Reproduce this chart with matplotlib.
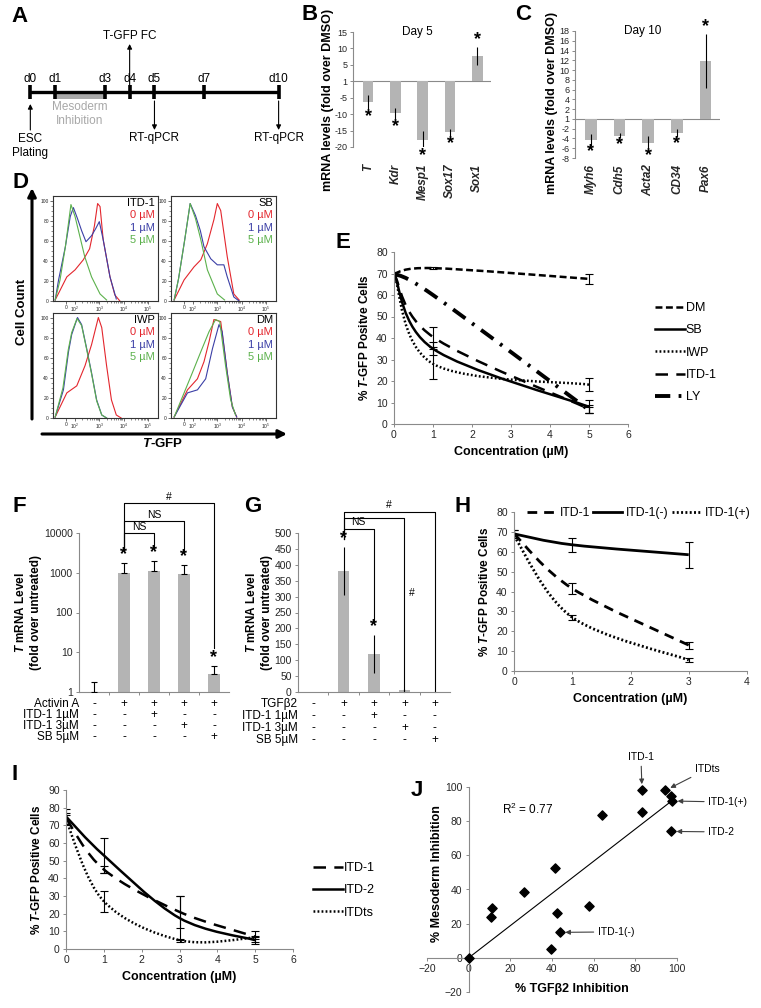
import numpy as np
import matplotlib
matplotlib.use("Agg")
from matplotlib import pyplot as plt
from matplotlib.lines import Line2D
from matplotlib.path import Path
from matplotlib.patches import PathPatch

plt.rcParams["font.family"] = ["Liberation Sans", "DejaVu Sans"]
plt.rcParams["mathtext.fontset"] = "custom"
plt.rcParams["mathtext.it"] = "Liberation Sans:italic:bold"
plt.rcParams["mathtext.rm"] = "Liberation Sans"
plt.rcParams["lines.scale_dashes"] = False
plt.rcParams["axes.edgecolor"] = "#8a8a8a"
plt.rcParams["axes.linewidth"] = 0.8
plt.rcParams["xtick.color"] = "#8a8a8a"
plt.rcParams["ytick.color"] = "#8a8a8a"
plt.rcParams["xtick.labelcolor"] = "#262626"
plt.rcParams["ytick.labelcolor"] = "#262626"
plt.rcParams["xtick.major.size"] = 2.5
plt.rcParams["ytick.major.size"] = 2.5
plt.rcParams["xtick.major.width"] = 0.7
plt.rcParams["ytick.major.width"] = 0.7
plt.rcParams["xtick.major.pad"] = 2
plt.rcParams["ytick.major.pad"] = 2

W, H = 761, 1008
BAR = "#b4b4b4"

# ---------------- data ----------------
# A: protocol timeline
days = [0, 1, 3, 4, 5, 7, 10]
day_labels = ["d0", "d1", "d3", "d4", "d5", "d7", "d10"]
inhib_days = [1, 3]

# B: day 5 qPCR (axis value 0 is labelled "1")
genes_b = ["T", "Kdr", "Mesp1", "Sox17", "Sox1"]
fold_b = [-6.3, -9.8, -17.8, -15.5, 7.6]
err_b = [2.0, 1.6, 2.6, 1.0, 2.7]
ticks_b = [15, 10, 5, 0, -5, -10, -15, -20]
ticklab_b = ["15", "10", "5", "1", "-5", "-10", "-15", "-20"]

# C: day 10 qPCR
genes_c = ["Myh6", "Cdh5", "Acta2", "CD34", "Pax6"]
fold_c = [-4.3, -3.4, -4.9, -2.9, 11.9]
err_c = [1.2, 0.6, 1.4, 0.9, 5.5]
ticks_c = list(range(18, -9, -2))
ticklab_c = [("1" if t == 0 else str(t)) for t in ticks_c]

# D: flow histograms (x in decades, y in % of max)
itd_red_x = [1.18, 1.66, 2.0, 2.34, 2.6, 2.8, 2.93, 3.03, 3.16, 3.44, 3.64, 3.85]
itd_red_y = [1, 24, 31, 41, 52, 75, 97, 94, 61, 24, 6, 0]
itd_blue_x = [1.18, 1.32, 1.6, 1.8, 1.93, 2.1, 2.27, 2.45, 2.68, 2.85, 3.0, 3.16, 3.44, 3.7]
itd_blue_y = [1, 21, 54, 84, 93, 82, 70, 59, 65, 72, 79, 61, 24, 2]
itd_green_x = [1.18, 1.38, 1.6, 1.83, 2.0, 2.2, 2.4, 2.68, 3.03, 3.3]
itd_green_y = [1, 21, 54, 96, 84, 64, 44, 24, 7, 1]

sb_red_x = [1.22, 1.63, 2.04, 2.32, 2.59, 2.86, 3.0, 3.14, 3.41, 3.68, 3.9]
sb_red_y = [1, 21, 34, 41, 57, 81, 97, 90, 44, 7, 1]
sb_blue_x = [1.22, 1.4, 1.65, 1.88, 2.1, 2.3, 2.45, 2.73, 3.0, 3.27, 3.41, 3.68, 3.9]
sb_blue_y = [1, 22, 60, 97, 85, 70, 54, 42, 36, 36, 24, 4, 0]
sb_green_x = [1.22, 1.4, 1.65, 1.88, 2.1, 2.32, 2.59, 3.0, 3.3]
sb_green_y = [1, 22, 60, 97, 82, 61, 31, 7, 1]

iwp_red_x = [1.18, 1.66, 2.07, 2.41, 2.68, 2.96, 3.1, 3.3, 3.5, 3.7, 3.9]
iwp_red_y = [1, 25, 32, 52, 73, 100, 90, 52, 18, 3, 0]
iwp_blue_x = [1.18, 1.52, 1.73, 1.86, 2.1, 2.27, 2.48, 2.68, 2.89, 3.1, 3.3]
iwp_blue_y = [1, 28, 66, 83, 100, 93, 69, 45, 18, 3, 0]
iwp_green_x = [1.18, 1.5, 1.72, 1.86, 2.08, 2.27, 2.48, 2.68, 2.89, 3.1, 3.3]
iwp_green_y = [1, 30, 68, 85, 99, 92, 68, 44, 17, 3, 0]

dm_red_x = [1.22, 1.77, 2.18, 2.45, 2.66, 2.86, 3.14, 3.41, 3.62, 3.8]
dm_red_y = [1, 28, 39, 56, 76, 98, 96, 45, 11, 1]
dm_blue_x = [1.22, 1.77, 2.18, 2.52, 2.8, 3.07, 3.2, 3.41, 3.62, 3.8]
dm_blue_y = [1, 25, 28, 39, 69, 93, 86, 45, 11, 1]
dm_green_x = [1.22, 1.63, 1.97, 2.32, 2.66, 2.93, 3.1, 3.34, 3.55, 3.75]
dm_green_y = [1, 25, 45, 66, 86, 98, 96, 52, 18, 3]

dose_labels = ["0 µM", "1 µM", "5 µM"]

# E: dose response
conc_e = [0, 1, 5]
dm_e = [70, 72.5, 67.5]
dm_e_err = [0, 0.6, 2.5]
sb_e = [70, 35, 8]
sb_e_err = [0, 3, 3]
iwp_e = [70, 28, 18.3]
iwp_e_err = [0, 7, 3]
itd_e = [70, 40.5, 7]
itd_e_err = [0, 4.5, 2]
ly_e = [70, 60, 6.5]
ly_e_err = [0, 0, 1.5]

# F: Activin A induced T (log)
act_f = [1.0, 1000, 1130, 950, 2.8]
act_f_err = [0.8, 800, 870, 650, 1.7]
star_f = [False, True, True, True, True]
rows_f = ["Activin A", "ITD-1 1µM", "ITD-1 3µM", "SB 5µM"]
signs_f = [["-", "+", "+", "+", "+"],
           ["-", "-", "+", "-", "-"],
           ["-", "-", "-", "+", "-"],
           ["-", "-", "-", "-", "+"]]
pairs_f = [(1, 2), (1, 3), (1, 4)]
pair_top_f = [10000, 20000, 56000]
pair_end_f = [3981, 3162, 13]
pair_lab_f = ["NS", "NS", "#"]

# G: TGFb2 induced T
tgf_g = [0.5, 381, 120, 5, 0.5]
tgf_g_err = [0, 76, 60, 3, 0]
star_g = [False, True, True, False, False]
rows_g = ["TGFβ2", "ITD-1 1µM", "ITD-1 3µM", "SB 5µM"]
signs_g = signs_f
pairs_g = [(1, 2), (1, 3), (1, 4)]
pair_top_g = [513, 548, 567]
pair_end_g = [220, 0, 0]
pair_lab_g = ["NS", "", "#"]

# H: ITD-1 enantiomers
conc_h = [0, 1, 3]
itd_h = [69, 41.5, 13]
itd_h_err = [2, 3, 1.8]
itdm_h = [69, 63.5, 58.5]
itdm_h_err = [2, 3.5, 6.5]
itdp_h = [68, 27, 5.5]
itdp_h_err = [1, 1.2, 1.2]

# I: analogues
conc_i = [0, 1, 3, 5]
itd1_i = [74, 45, 21, 7]
itd1_i_err = [3, 2, 9, 3]
itd2_i = [75, 53, 17.5, 5]
itd2_i_err = [4, 10, 12.5, 2]
itdts_i = [73, 27, 5, 6.5]
itdts_i_err = [3, 6, 0.8, 1]

# J: correlation
tgf_inh = [0, 10.9, 11.4, 26.7, 41.6, 42.4, 39.5, 43.7, 57.8, 64, 83.2, 83.2, 94.4, 97.1, 97.6, 97.1]
meso_inh = [0, 24.1, 29, 38.5, 52.4, 26, 4.9, 14.9, 30.3, 83.4, 98.4, 85.5, 98, 94.5, 91.8, 74]
j_names = ["ITD-1", "ITDts", "ITD-1(+)", "ITD-2", "ITD-1(-)"]
j_idx = [10, 12, 14, 15, 7]

# ---------------- helpers ----------------
fig = plt.figure(figsize=(W / 100, H / 100), dpi=100)


def box(x0, y0, x1, y1):
    return fig.add_axes([x0 / W, 1 - y1 / H, (x1 - x0) / W, (y1 - y0) / H])


def letter(s, x, y):
    fig.text(x / W, 1 - y / H, s, fontsize=16, fontweight="bold", ha="center", va="center")


def excel_line(ax, x, y, **kw):
    # smoothed line like the spreadsheet's "smooth line" option
    pts = np.column_stack([x, y]).astype(float)
    n = len(pts)
    verts, codes = [pts[0]], [Path.MOVETO]
    for i in range(n - 1):
        p0, p1 = pts[max(i - 1, 0)], pts[i]
        p2, p3 = pts[i + 1], pts[min(i + 2, n - 1)]
        verts += [p1 + (p2 - p0) / 6, p2 - (p3 - p1) / 6, p2]
        codes += [Path.CURVE4] * 3
    ax.add_patch(PathPatch(Path(verts, codes), fill=False, edgecolor="k",
                           capstyle="butt", **kw))


def errs(ax, x, y, e, cap=3):
    x, y, e = np.asarray(x, float), np.asarray(y, float), np.asarray(e, float)
    m = e > 0
    ax.errorbar(x[m], y[m], yerr=e[m], fmt="none", ecolor="k", elinewidth=0.8,
                capsize=cap, capthick=0.8)


def curve_axes(ax, xmax, ymax, ystep):
    ax.set_xlim(0, xmax)
    ax.set_ylim(0, ymax)
    ax.set_xticks(range(0, xmax + 1))
    ax.set_yticks(range(0, ymax + 1, ystep))
    ax.spines["top"].set_visible(False)
    ax.spines["right"].set_visible(False)
    ax.tick_params(labelsize=7.5)


def star(ax, x, y, up=True, dy=5, fs=13):
    ax.annotate("*", (x, y), xytext=(0, dy if up else -dy), textcoords="offset points",
                ha="center", va="center", fontsize=fs, fontweight="bold",
                annotation_clip=False)


# ---------------- A ----------------
axA = box(5, 25, 295, 165)
axA.set_xlim(-1.02, 10.66)
axA.set_ylim(165, 25)
axA.axis("off")
axA.plot([days[0], days[-1]], [92, 92], color="k", lw=2.4, solid_capstyle="butt")
axA.vlines(days, 85.5, 99, color="k", lw=2.6)
for d, lab in zip(days, day_labels):
    axA.text(d, 79, lab, ha="center", va="center", fontsize=8.5)
axA.fill_between(inhib_days, 94, 99, color="#a8a8a8", lw=0)
axA.text(np.mean(inhib_days), 114, "Mesoderm\nInhibition", color="#a8a8a8",
         ha="center", va="center", fontsize=8.5, linespacing=1.15)
ap = dict(arrowstyle="-|>", color="k", lw=0.8, mutation_scale=7, shrinkA=0, shrinkB=0)
axA.annotate("", xy=(days[3], 44), xytext=(days[3], 86), arrowprops=ap)
axA.text(days[3], 36, "T-GFP FC", ha="center", va="center", fontsize=8.5)
axA.annotate("", xy=(days[0], 104), xytext=(days[0], 130), arrowprops=ap)
axA.text(days[0], 146, "ESC\nPlating", ha="center", va="center", fontsize=8.5, linespacing=1.2)
for d in (days[4], days[6]):
    axA.annotate("", xy=(d, 130), xytext=(d, 101), arrowprops=ap)
    axA.text(d, 138, "RT-qPCR", ha="center", va="center", fontsize=8.5)

# ---------------- B / C ----------------
def qpcr(ax, genes, vals, es, ticks, labs, ylim, title, pad, lab_xy, sdy):
    x = np.arange(len(genes))
    ax.bar(x, vals, width=0.4, color=BAR, zorder=2)
    ax.errorbar(x, vals, yerr=es, fmt="none", ecolor="k", elinewidth=0.8, capsize=0, zorder=3)
    for i, (v, e) in enumerate(zip(vals, es)):
        star(ax, i, v + np.sign(v) * e, up=v > 0, dy=5.5 if v > 0 else sdy)
    ax.axhline(0, color="#8a8a8a", lw=0.8, zorder=1)
    ax.set_xlim(-0.55, len(genes) - 0.5)
    ax.set_ylim(*ylim)
    ax.set_yticks(ticks)
    ax.set_yticklabels(labs)
    ax.set_xticks(x)
    ax.set_xticklabels(genes, rotation=90, fontstyle="italic", fontweight="bold", fontsize=8.5,
                       va="top")
    ax.tick_params(axis="x", length=0, pad=pad)
    ax.tick_params(axis="y", labelsize=6.5, length=2)
    for s in ("top", "right", "bottom"):
        ax.spines[s].set_visible(False)
    ax.set_ylabel("mRNA levels (fold over DMSO)", fontweight="bold", fontsize=9)
    ax.yaxis.set_label_coords(*lab_xy)
    ax.text(0.47, 1.0, title, transform=ax.transAxes, ha="center", va="center", fontsize=8.5)


axB = box(353, 32, 491, 147)
qpcr(axB, genes_b, fold_b, err_b, ticks_b, ticklab_b, (-20, 15), "Day 5", 12,
     (-0.14, 0.41), 5.5)
axC = box(575, 31, 720, 158)
qpcr(axC, genes_c, fold_c, err_c, ticks_c, ticklab_c, (-8, 18), "Day 10", 4.5,
     (-0.115, 0.43), 4.2)

# ---------------- D ----------------
hist_panels = [
    ("ITD-1", (53, 196, 158, 301), [(itd_red_x, itd_red_y), (itd_blue_x, itd_blue_y), (itd_green_x, itd_green_y)]),
    ("SB", (171, 196, 276, 301), [(sb_red_x, sb_red_y), (sb_blue_x, sb_blue_y), (sb_green_x, sb_green_y)]),
    ("IWP", (53, 313, 158, 418), [(iwp_red_x, iwp_red_y), (iwp_blue_x, iwp_blue_y), (iwp_green_x, iwp_green_y)]),
    ("DM", (171, 313, 276, 418), [(dm_red_x, dm_red_y), (dm_blue_x, dm_blue_y), (dm_green_x, dm_green_y)]),
]
hist_colors = ["#e3262d", "#3b3fa6", "#5cb14c"]
for name, pos, curves in hist_panels:
    ax = box(*pos)
    for (hx, hy), c in zip(curves, hist_colors):
        ax.plot(hx, hy, color=c, lw=0.8)
    ax.set_xlim(1.09, 5.42)
    ax.set_ylim(0, 104.5)
    for s in ax.spines.values():
        s.set_color("#333333")
        s.set_linewidth(0.8)
    ax.set_xticks([1.63, 2, 3, 4, 5])
    ax.set_xticklabels(["0", "$10^2$", "$10^3$", "$10^4$", "$10^5$"])
    ax.set_yticks([0, 20, 40, 60, 80, 100])
    ax.set_yticks(np.arange(0, 101, 5), minor=True)
    ax.set_xticks(np.log10([k * 10 ** n for n in (2, 3, 4) for k in range(2, 10)]), minor=True)
    ax.tick_params(labelsize=3.5, length=2, width=0.5, color="#333333", pad=1)
    ax.tick_params(which="minor", length=1.2, width=0.4, color="#333333")
    ax.text(0.97, 0.93, name, transform=ax.transAxes, ha="right", va="center", fontsize=8)
    for k, (lab, c) in enumerate(zip(dose_labels, hist_colors)):
        ax.text(0.97, 0.82 - 0.12 * k, lab, transform=ax.transAxes, ha="right",
                va="center", fontsize=8, color=c)

axD = box(0, 180, 300, 460)
axD.set_xlim(0, 300)
axD.set_ylim(460, 180)
axD.axis("off")
big = dict(arrowstyle="-|>", color="k", lw=2.2, mutation_scale=12, shrinkA=0, shrinkB=0)
axD.annotate("", xy=(32, 188), xytext=(32, 419), arrowprops=big)
axD.annotate("", xy=(287, 434), xytext=(42, 434), arrowprops=big)
axD.text(22, 312, "Cell Count", rotation=90, ha="center", va="center", fontsize=9.5,
         fontweight="bold")
axD.text(163, 444, r"$\it{T}$-GFP", ha="center", va="center", fontsize=9.5, fontweight="bold")

# ---------------- E ----------------
axE = box(394, 252, 628, 424)
curve_axes(axE, 6, 80, 10)
e_styles = [
    ("DM", dm_e, dm_e_err, dict(lw=1.8, linestyle=(0, (5, 2.5)))),
    ("SB", sb_e, sb_e_err, dict(lw=1.8, linestyle="-")),
    ("IWP", iwp_e, iwp_e_err, dict(lw=1.8, linestyle=(0, (1.3, 1.6)))),
    ("ITD-1", itd_e, itd_e_err, dict(lw=1.8, linestyle=(0, (9, 6)))),
    ("LY", ly_e, ly_e_err, dict(lw=2.8, linestyle=(0, (11, 6, 2, 6)))),
]
handles = []
for name, vals, es, st in e_styles:
    excel_line(axE, conc_e, vals, **st)
    errs(axE, conc_e, vals, es)
    handles.append(Line2D([], [], color="k", lw=st["lw"], linestyle=st["linestyle"]))
axE.set_ylabel(r"% $\it{T}$-GFP Positve Cells", fontweight="bold", fontsize=8.5, labelpad=4)
axE.set_xlabel("Concentration (µM)", fontweight="bold", fontsize=9, labelpad=4)
axE.legend(handles, [s[0] for s in e_styles], loc="upper left",
           bbox_to_anchor=(655 / W, 1 - 302 / H), bbox_transform=fig.transFigure,
           frameon=False, fontsize=9, handlelength=2.4, handletextpad=0.05,
           labelspacing=0.83, borderpad=0, borderaxespad=0)

# ---------------- F / G ----------------
def sign_table(ax, names, signs, dy0, step):
    for r, (name, row) in enumerate(zip(names, signs)):
        off = -(dy0 + r * step)
        ax.annotate(name, xy=(-0.5, 0), xycoords=("data", "axes fraction"),
                    xytext=(0, off), textcoords="offset points", ha="right", va="center",
                    fontsize=8.5, annotation_clip=False)
        for i, s in enumerate(row):
            ax.annotate(s, xy=(i, 0), xycoords=("data", "axes fraction"),
                        xytext=(0, off), textcoords="offset points", ha="center",
                        va="center", fontsize=8.5, annotation_clip=False)


def brackets(ax, pairs, tops, ends, labs, left_end):
    for (a, b), t, e, lab in zip(pairs, tops, ends, labs):
        ax.plot([a, a, b, b], [left_end, t, t, e], color="k", lw=0.8, clip_on=False)
        if lab:
            ax.annotate(lab, ((a + b) / 2, t), xytext=(0, 1), textcoords="offset points",
                        ha="center", va="bottom", fontsize=7.5, annotation_clip=False)


def bar_axes(ax, lab_x):
    ax.set_xlim(-0.5, 4.5)
    ax.set_xticks([0.5, 1.5, 2.5, 3.5])
    ax.set_xticklabels([])
    ax.tick_params(axis="x", length=2.5)
    ax.tick_params(axis="y", labelsize=7.5)
    ax.spines["top"].set_visible(False)
    ax.spines["right"].set_visible(False)
    ax.set_ylabel("$\\it{T}$ mRNA Level\n(fold over untreated)", fontweight="bold",
                  fontsize=8.5, linespacing=1.3)
    ax.yaxis.set_label_coords(lab_x, 0.5)


axF = box(79, 533, 229, 692)
xf = np.arange(len(act_f))
axF.set_yscale("log")
axF.bar(xf, np.array(act_f) - 1, bottom=1, width=0.38, color=BAR, zorder=2)
axF.errorbar(xf, act_f, yerr=[np.zeros(len(act_f)), act_f_err], fmt="none", ecolor="k",
             elinewidth=0.8, capsize=2.5, capthick=0.8, zorder=3)
for i, (v, e, s) in enumerate(zip(act_f, act_f_err, star_f)):
    if s:
        star(axF, i, v + e, dy=6)
axF.set_ylim(1, 10000)
axF.set_yticks([1, 10, 100, 1000, 10000])
axF.set_yticklabels(["1", "10", "100", "1000", "10000"])
axF.minorticks_off()
bar_axes(axF, -0.25)
brackets(axF, pairs_f, pair_top_f, pair_end_f, pair_lab_f, 3548)
sign_table(axF, rows_f, signs_f, 8.5, 8)

axG = box(298, 533, 450, 692)
xg = np.arange(len(tgf_g))
axG.bar(xg, tgf_g, width=0.38, color=BAR, zorder=2)
errs(axG, xg, tgf_g, tgf_g_err, cap=0)
for i, (v, e, s) in enumerate(zip(tgf_g, tgf_g_err, star_g)):
    if s:
        star(axG, i, v + e, dy=6)
axG.set_ylim(0, 500)
axG.set_yticks(range(0, 501, 50))
bar_axes(axG, -0.165)
brackets(axG, pairs_g, pair_top_g, pair_end_g, pair_lab_g, 480)
axG.text(3.15, 312, "#", ha="left", va="center", fontsize=7.5)
sign_table(axG, rows_g, signs_g, 9, 8.5)

# ---------------- H ----------------
axH = box(514, 512, 747, 671)
curve_axes(axH, 4, 80, 10)
h_styles = [
    ("ITD-1", itd_h, itd_h_err, dict(lw=2.0, linestyle=(0, (7, 5)))),
    ("ITD-1(-)", itdm_h, itdm_h_err, dict(lw=2.0, linestyle="-")),
    ("ITD-1(+)", itdp_h, itdp_h_err, dict(lw=2.0, linestyle=(0, (1.4, 1.7)))),
]
handles = []
for name, vals, es, st in h_styles:
    excel_line(axH, conc_h, vals, **st)
    errs(axH, conc_h, vals, es)
    handles.append(Line2D([], [], color="k", lw=st["lw"], linestyle=st["linestyle"]))
axH.set_ylabel(r"% $\it{T}$-GFP Positive Cells", fontweight="bold", fontsize=8.5, labelpad=4)
axH.set_xlabel("Concentration (µM)", fontweight="bold", fontsize=9, labelpad=4)
axH.legend(handles, [s[0] for s in h_styles], loc="center left", ncol=3,
           bbox_to_anchor=(527 / W, 1 - 513 / H), bbox_transform=fig.transFigure,
           frameon=False, fontsize=8.8, handlelength=2.3, handletextpad=0.35,
           columnspacing=0.3, borderpad=0, borderaxespad=0)

# ---------------- I ----------------
axI = box(66, 790, 293, 949)
curve_axes(axI, 6, 90, 10)
i_styles = [
    ("ITD-1", itd1_i, itd1_i_err, dict(lw=1.8, linestyle=(0, (9, 6)))),
    ("ITD-2", itd2_i, itd2_i_err, dict(lw=1.8, linestyle="-")),
    ("ITDts", itdts_i, itdts_i_err, dict(lw=1.8, linestyle=(0, (1.3, 1.6)))),
]
handles = []
for name, vals, es, st in i_styles:
    excel_line(axI, conc_i, vals, **st)
    errs(axI, conc_i, vals, es)
    handles.append(Line2D([], [], color="k", lw=st["lw"], linestyle=st["linestyle"]))
axI.set_ylabel(r"% $\it{T}$-GFP Positive Cells", fontweight="bold", fontsize=8.5, labelpad=4)
axI.set_xlabel("Concentration (µM)", fontweight="bold", fontsize=9, labelpad=4)
axI.legend(handles, [s[0] for s in i_styles], loc="upper left",
           bbox_to_anchor=(313 / W, 1 - 862 / H), bbox_transform=fig.transFigure,
           frameon=False, fontsize=9, handlelength=2.4, handletextpad=0.05,
           labelspacing=0.83, borderpad=0, borderaxespad=0)

# ---------------- J ----------------
axJ = box(427, 787, 677, 992)
axJ.set_xlim(-20, 100)
axJ.set_ylim(-20, 100)
axJ.spines["left"].set_position(("data", 0))
axJ.spines["bottom"].set_position(("data", 0))
axJ.spines["top"].set_visible(False)
axJ.spines["right"].set_visible(False)
axJ.set_xticks(range(-20, 101, 20))
axJ.set_yticks(range(-20, 101, 20))
axJ.tick_params(labelsize=7.5)
tx = np.array(tgf_inh)
my = np.array(meso_inh)
slope = (tx * my).sum() / (tx ** 2).sum()
axJ.plot([0, tx.max()], [0, slope * tx.max()], color="k", lw=0.8)
axJ.scatter(tx, my, marker="D", s=22, color="k", zorder=3, clip_on=False)
axJ.text(16, 87, "R$^2$ = 0.77", ha="left", va="center", fontsize=8.5)
axJ.set_xlabel("% TGFβ2 Inhibition", fontweight="bold", fontsize=9)
axJ.xaxis.set_label_coords(0.58, 0.045)
axJ.set_ylabel("% Mesoderm Inhibition", fontweight="bold", fontsize=9)
axJ.yaxis.set_label_coords(0.065, 0.58)
jap = dict(arrowstyle="-|>", color="#404040", lw=0.8, mutation_scale=7, shrinkA=1, shrinkB=4)
label_pos = [(82.7, 117.5), (108.6, 110.5), (115, 91.2), (115, 73.7), (62, 15.2)]
for name, k, (lx, ly) in zip(j_names, j_idx, label_pos):
    axJ.annotate(name, xy=(tx[k], my[k]), xytext=(lx, ly), ha="left" if name != "ITD-1" else "center",
                 va="center", fontsize=7.5, arrowprops=jap, annotation_clip=False)

# ---------------- panel letters ----------------
for s, x, y in [("A", 20, 17), ("B", 310, 15), ("C", 523, 15), ("D", 20, 183),
                ("E", 343, 243), ("F", 19, 507), ("G", 253, 507), ("H", 463, 507),
                ("I", 15, 774), ("J", 417, 790)]:
    letter(s, x, y)

fig.savefig("out.png", dpi=100)
